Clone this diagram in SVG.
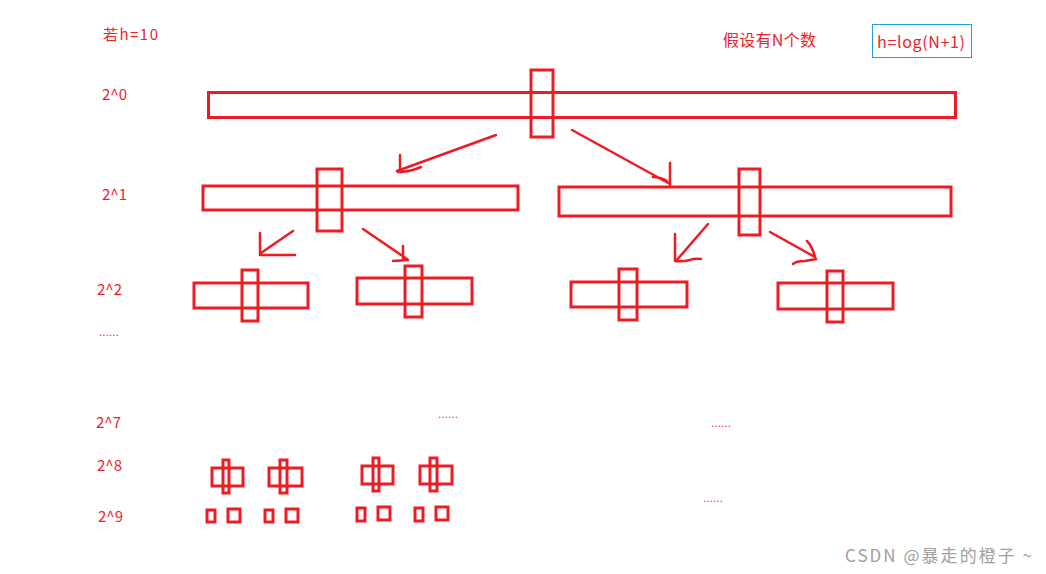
<svg xmlns="http://www.w3.org/2000/svg" width="1046" height="574" viewBox="0 0 1046 574">
<style>
.r{fill:none;stroke:#ed1c24;stroke-width:3}
.a{fill:none;stroke:#ed1c24;stroke-width:2.5;stroke-linecap:round;stroke-linejoin:round}
.t{font-family:"Noto Sans CJK SC","Liberation Sans",sans-serif;fill:#ee1e2a;font-size:15px}
.d{font-family:"Liberation Sans",sans-serif;fill:#f0303a;font-size:12px}
.w{font-family:"Noto Sans CJK SC","Liberation Sans",sans-serif;fill:#a0a0a0;font-size:17px}
</style>
<rect width="1046" height="574" fill="#ffffff"/>
<g id="labels">
<text class="t" x="103" y="40" textLength="55" lengthAdjust="spacing">若h=10</text>
<text class="t" x="102" y="100">2^0</text>
<text class="t" x="102" y="200">2^1</text>
<text class="t" x="97" y="295">2^2</text>
<text class="d" x="99" y="336">......</text>
<text class="t" x="96" y="428">2^7</text>
<text class="t" x="97" y="471">2^8</text>
<text class="t" x="98" y="522">2^9</text>
<text class="t" x="723" y="46" style="font-size:16px" textLength="93" lengthAdjust="spacing">假设有N个数</text>
<text class="d" x="438" y="418">......</text>
<text class="d" x="711" y="427">......</text>
<text class="d" x="703" y="502">......</text>
</g>
<g id="formula">
<rect x="872.5" y="24.5" width="99" height="33" fill="none" stroke="#1ea0e0" stroke-width="1"/>
<text class="t" x="877" y="48" style="font-size:16px" textLength="88" lengthAdjust="spacing">h=log(N+1)</text>
</g>
<g id="n0">
<rect class="r" x="208.5" y="92.5" width="747" height="25"/>
<rect class="r" x="531" y="70" width="22" height="67"/>
</g>
<g id="n1a">
<rect class="r" x="203" y="186" width="315" height="24"/>
<rect class="r" x="317" y="169" width="25" height="62"/>
</g>
<g id="n1b">
<rect class="r" x="559" y="187" width="392" height="29"/>
<rect class="r" x="739" y="169" width="21" height="66"/>
</g>
<g id="n2a">
<rect class="r" x="194" y="283" width="114" height="25"/>
<rect class="r" x="242" y="270" width="16" height="51"/>
</g>
<g id="n2b">
<rect class="r" x="357" y="278" width="115" height="26"/>
<rect class="r" x="405" y="266" width="17" height="51"/>
</g>
<g id="n2c">
<rect class="r" x="571" y="282" width="116" height="25"/>
<rect class="r" x="619" y="269" width="18" height="51"/>
</g>
<g id="n2d">
<rect class="r" x="778" y="283" width="115" height="26"/>
<rect class="r" x="827" y="271" width="16" height="51"/>
</g>
<g id="n8a">
<rect class="r" x="212" y="468" width="31" height="18"/>
<rect class="r" x="223" y="460" width="6" height="33"/>
</g>
<g id="n8b">
<rect class="r" x="269" y="468" width="33" height="18"/>
<rect class="r" x="280" y="460" width="7" height="33"/>
</g>
<g id="n8c">
<rect class="r" x="362" y="466" width="31" height="18"/>
<rect class="r" x="373" y="458" width="6" height="33"/>
</g>
<g id="n8d">
<rect class="r" x="420" y="466" width="32" height="18"/>
<rect class="r" x="430" y="458" width="7" height="33"/>
</g>
<g id="n9">
<rect class="r" x="207" y="510" width="8" height="12"/>
<rect class="r" x="228" y="509" width="12" height="13"/>
<rect class="r" x="265" y="510" width="8" height="12"/>
<rect class="r" x="286" y="509" width="12" height="13"/>
<rect class="r" x="357" y="508" width="8" height="13"/>
<rect class="r" x="378" y="507" width="12" height="13"/>
<rect class="r" x="415" y="508" width="8" height="13"/>
<rect class="r" x="436" y="507" width="12" height="13"/>
</g>
<g id="connectors">
<path class="a" d="M496,135 L397,171 M400,155 L400,171 M398,172 Q410,172 421,167"/>
<path class="a" d="M572,130 L670,184 M670,163 L670,185 M653,177 Q660,177 667,181"/>
<path class="a" d="M293,231 L261,253 M260,233 L260,255 L295,255"/>
<path class="a" d="M363,229 L407,259 M403,246 L403,259 M393,261 L408,260"/>
<path class="a" d="M708,224 L676,261 M675,234 L675,261 Q682,262 690,260 Q694,258 701,259"/>
<path class="a" d="M770,232 L815,257 M807,241 Q812,246 815,257 M793,264 Q796,261 805,261 L816,259"/>
</g>
<text class="w" x="845" y="562" textLength="187" lengthAdjust="spacing">CSDN @暴走的橙子 ~</text>
</svg>
